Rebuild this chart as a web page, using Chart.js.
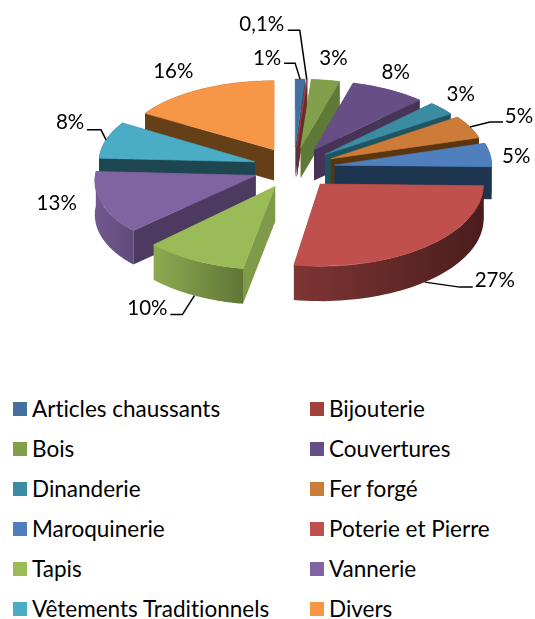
<!DOCTYPE html>
<html>
<head>
<meta charset="utf-8">
<script src="https://cdn.jsdelivr.net/npm/chart.js@4"></script>
<style>
  body { margin: 0; background: #fff; width: 535px; height: 619px; position: relative; overflow: hidden; }
  #pie { position: absolute; left: 0; top: 0; }
  #legend { position: absolute; left: 13px; top: 388px; display: grid; grid-template-columns: 297px auto; grid-auto-rows: 40px; font: 22.5px Lato, sans-serif; font-variant-ligatures: none; color: #000; }
  #legend div { display: flex; align-items: center; white-space: nowrap; }
  #legend i { width: 14px; height: 14px; margin-right: 5px; position: relative; top: 1px; }
</style>
</head>
<body>
<canvas id="pie" width="535" height="340"></canvas>
<div id="legend"></div>
<script>
const categories = ['Articles chaussants', 'Bijouterie', 'Bois', 'Couvertures', 'Dinanderie', 'Fer forgé',
  'Maroquinerie', 'Poterie et Pierre', 'Tapis', 'Vannerie', 'Vêtements Traditionnels', 'Divers'];
const shares = [1, 0.1, 3, 8, 3, 5, 5, 27, 10, 13, 8, 16];
const shareLabels = ['1%', '0,1%', '3%', '8%', '3%', '5%', '5%', '27%', '10%', '13%', '8%', '16%'];

const topColours = ['#44709f', '#a33f3c', '#82a04b', '#674f86', '#3b8ba3', '#cc7c38',
  '#4f80bd', '#c0504d', '#9bbb59', '#8064a2', '#4bacc6', '#f79646'];
const wallColours = ['#2c4a6c', '#6c2a28', '#5f7a38', '#473358', '#1f5560', '#5b3510',
  '#1e3550', '#5a2422', '#7f9b4a', '#4d3a60', '#1e4651', '#653f17'];
// rim shading, left to right, where the curved side really shows
const rimShades = { 7: ['#7d3634', '#4a1d1c'], 8: ['#8eaa52', '#5f7635'], 9: ['#72598f', '#5f4a7a'] };

// label offset from the slice rim, then leader elbow and leader end (same origin)
const labelNudges = [[-33, -21], [-45, -55], [8, -22], [7, -17], [19, -14], [49, -11],
  [26, 2], [70, -2], [-47, 13], [-45, 0], [-36, -17], [-27, -18]];
const leaders = [[-5, -16, -16, -16], [-7, -49, -19, -49], null, null, null, [20, -5, 33, -5],
  null, [35, 5, 48, 5], [-12, 19, -24, 19], null, [-5, -10, -19, -10], null];

const pieX = 294;
const pieY = 168;
const explode = 41;
const tilt = 0.51;

// fake perspective: front slices come out a little bigger than back ones
function sliceGeom(arc) {
  const mid = (arc.startAngle + arc.endAngle) / 2;
  const s = Math.cos(mid);
  const c = -Math.sin(mid);
  return {
    s, c,
    ax: pieX + explode * s,
    ay: pieY - explode * tilt * c,
    rx: 158 - 7 * c,
    ry: 76 - 8 * c,
    depth: 33 - 2.5 * c,
    shear: c < 0 && s < 0 ? 0.15 * s : 0 // front left slices lean outwards
  };
}

function rimPoint(g, angle) {
  const dy = g.ry * Math.sin(angle);
  return [g.ax + g.rx * Math.cos(angle) + g.shear * dy, g.ay + dy];
}

function fillPoly(ctx, pts, fill) {
  ctx.beginPath();
  pts.forEach(p => ctx.lineTo(p[0], p[1]));
  ctx.closePath();
  ctx.fillStyle = fill;
  ctx.fill();
}

function drawWalls(ctx, arc, g, i) {
  const start = rimPoint(g, arc.startAngle);
  const end = rimPoint(g, arc.endAngle);
  [start, end].forEach(p => {
    fillPoly(ctx, [[g.ax, g.ay], p, [p[0], p[1] + g.depth], [g.ax, g.ay + g.depth]], wallColours[i]);
  });

  const upper = [];
  for (let k = 0; k <= 48; k++) {
    upper.push(rimPoint(g, arc.startAngle + (arc.endAngle - arc.startAngle) * k / 48));
  }
  const lower = upper.map(p => [p[0], p[1] + g.depth]).reverse();
  let fill = wallColours[i];
  if (rimShades[i]) {
    const xs = upper.map(p => p[0]);
    fill = ctx.createLinearGradient(Math.min(...xs), 0, Math.max(...xs), 0);
    fill.addColorStop(0, rimShades[i][0]);
    fill.addColorStop(1, rimShades[i][1]);
  }
  fillPoly(ctx, upper.concat(lower), fill);
}

const pie3d = {
  id: 'pie3d',
  beforeDatasetDraw(chart, args) {
    const ctx = chart.ctx;
    const arcs = args.meta.data;
    const order = arcs.map((arc, i) => i).sort((a, b) => sliceGeom(arcs[b]).c - sliceGeom(arcs[a]).c);
    order.forEach(i => {
      const arc = arcs[i];
      const g = sliceGeom(arc);
      drawWalls(ctx, arc, g, i);
      ctx.save();
      ctx.translate(g.ax, g.ay);
      ctx.transform(1, 0, g.shear, 1, 0, 0);
      ctx.scale(g.rx / arc.outerRadius, g.ry / arc.outerRadius);
      ctx.translate(-arc.x, -arc.y);
      arc.draw(ctx);
      ctx.restore();
    });
    return false;
  },
  afterDatasetsDraw(chart) {
    const ctx = chart.ctx;
    ctx.save();
    ctx.font = '20.5px Lato, sans-serif';
    ctx.fillStyle = '#000';
    ctx.strokeStyle = '#000';
    ctx.lineWidth = 1.5;
    ctx.textAlign = 'center';
    ctx.textBaseline = 'middle';
    chart.getDatasetMeta(0).data.forEach((arc, i) => {
      const g = sliceGeom(arc);
      const p = rimPoint(g, (arc.startAngle + arc.endAngle) / 2);
      const x = p[0];
      const y = p[1] + (g.c < -0.5 ? g.depth : 0);
      ctx.fillText(shareLabels[i], x + labelNudges[i][0], y + labelNudges[i][1]);
      const l = leaders[i];
      if (l) {
        ctx.beginPath();
        ctx.moveTo(x, y);
        ctx.lineTo(x + l[0], y + l[1]);
        ctx.lineTo(x + l[2], y + l[3]);
        ctx.stroke();
      }
    });
    ctx.restore();
  }
};

const chart = new Chart(document.getElementById('pie'), {
  type: 'pie',
  data: {
    labels: categories,
    datasets: [{
      data: shares,
      backgroundColor: topColours,
      borderColor: topColours,
      borderWidth: 1
    }]
  },
  options: {
    responsive: false,
    animation: false,
    plugins: {
      legend: { display: false },
      tooltip: { enabled: false }
    }
  },
  plugins: [pie3d]
});

// two column legend, the built-in one can't keep the columns lined up
const legendEl = document.getElementById('legend');
categories.forEach((name, i) => {
  const item = document.createElement('div');
  const swatch = document.createElement('i');
  swatch.style.background = topColours[i];
  item.appendChild(swatch);
  item.appendChild(document.createTextNode(name));
  legendEl.appendChild(item);
});
</script>
</body>
</html>
